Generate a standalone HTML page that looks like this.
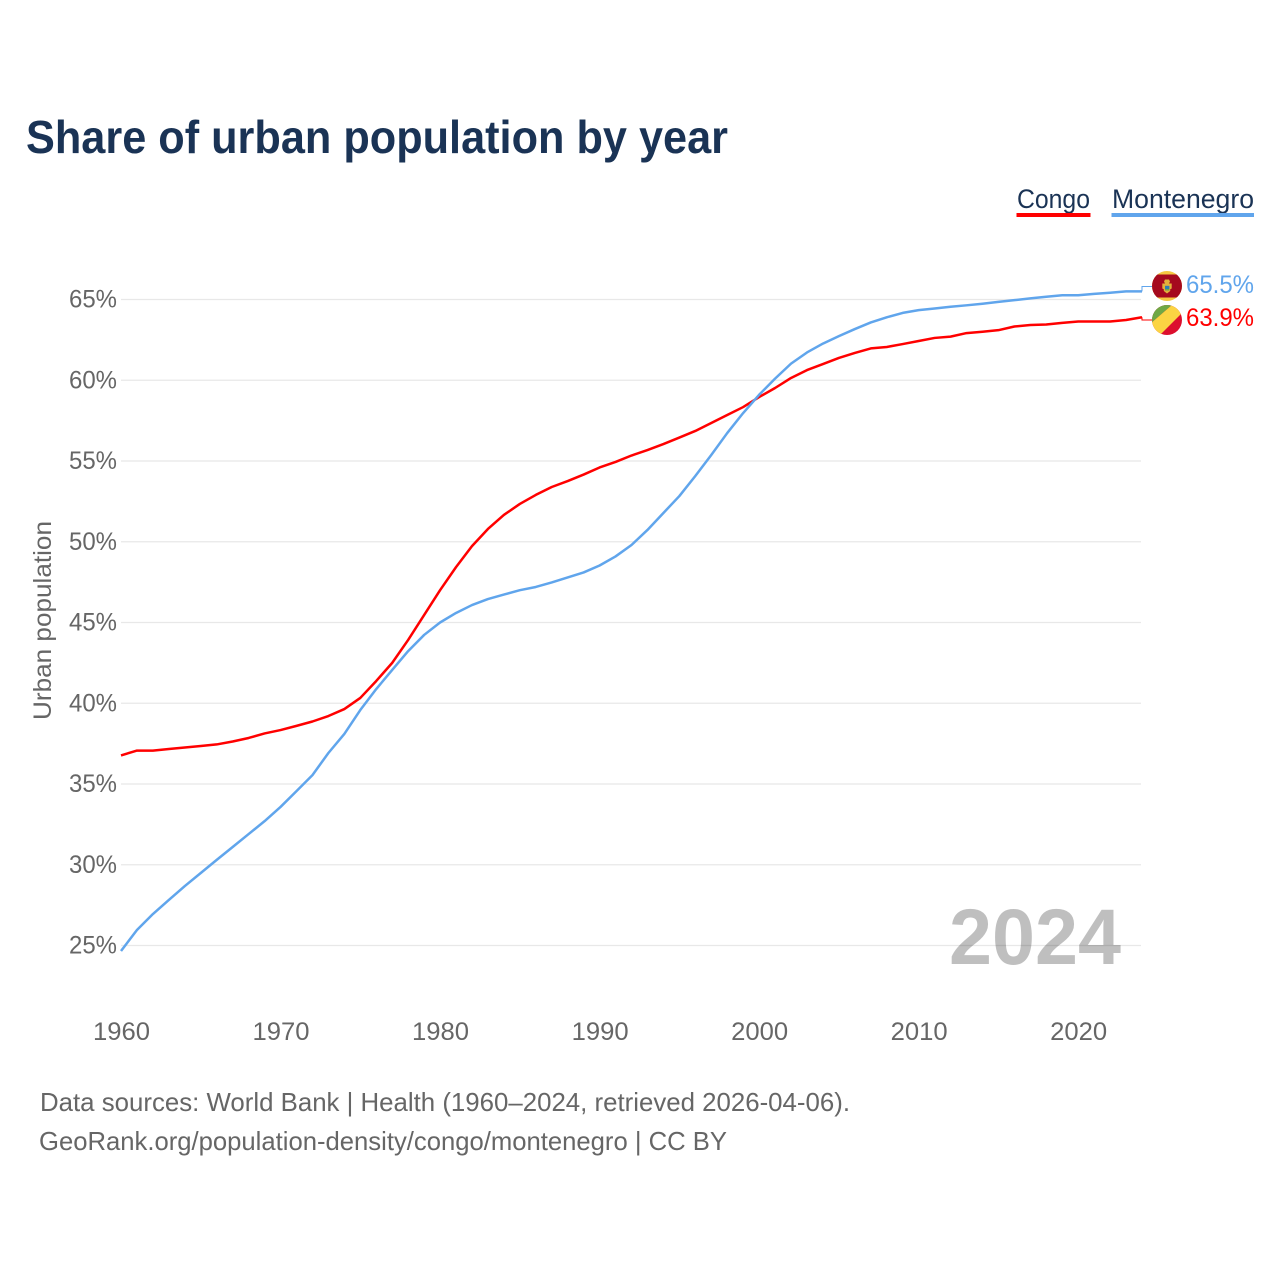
<!DOCTYPE html>
<html lang="en">
<head>
<meta charset="utf-8">
<title>Share of urban population by year</title>
<style>
  html, body { margin: 0; padding: 0; background: #fff; }
  svg { display: block; font-family: "Liberation Sans", sans-serif; }
</style>
</head>
<body>
<svg id="chart" width="1280" height="1280" viewBox="0 0 1280 1280" xmlns="http://www.w3.org/2000/svg">
  <rect width="1280" height="1280" fill="#fff"/>
  <text x="26" y="153" font-size="46" font-weight="700" fill="#1a3355" textLength="702" lengthAdjust="spacingAndGlyphs">Share of urban population by year</text>

  <g>
    <g>
      <text x="1017" y="208" font-size="27" fill="#1a3355" textLength="73" lengthAdjust="spacingAndGlyphs">Congo</text>
      <rect x="1016.5" y="213" width="74" height="4" fill="#ff0000"/>
    </g>
    <g>
      <text x="1112" y="208" font-size="27" fill="#1a3355" textLength="142" lengthAdjust="spacingAndGlyphs">Montenegro</text>
      <rect x="1111.5" y="213" width="142.5" height="4" fill="#60a5ec"/>
    </g>
  </g>

  <g id="grid"></g>
  <g id="yticks"></g>
  <g id="xticks"></g>

  <text transform="translate(51,620.5) rotate(-90)" text-anchor="middle" font-size="25" fill="#666" textLength="199" lengthAdjust="spacingAndGlyphs">Urban population</text>

  <text x="949" y="964" font-size="79" font-weight="700" fill="#000" fill-opacity="0.25" textLength="172" lengthAdjust="spacingAndGlyphs">2024</text>

  <g id="series"></g>

  <defs>
    <clipPath id="clip-me"><circle cx="1167" cy="286" r="15"/></clipPath>
    <clipPath id="clip-cg"><circle cx="1167" cy="320" r="15"/></clipPath>
  </defs>

  <g clip-path="url(#clip-me)">
    <rect x="1152" y="271" width="30" height="30" fill="#f5c842"/>
    <rect x="1152" y="274.5" width="30" height="23" fill="#a50a1e"/>
    <path d="M1165 279.5 h4 l1 2 l-1 2 h2.7 v5 l-1.5 0.8 v1.7 l-3.2 2.5 l-3.2 -2.5 v-1.7 l-1.5 -0.8 v-5 h2.7 l-1 -2z" fill="#e3b13c"/>
    <rect x="1165" y="285.8" width="4.4" height="4.6" fill="#2f7fb0"/>
    <rect x="1165" y="289" width="4.4" height="1.4" fill="#6fa845"/>
  </g>
  <g clip-path="url(#clip-cg)">
    <rect x="1152" y="305" width="30" height="30" fill="#dc0f2e"/>
    <polygon points="1150,305 1172,305 1150,324" fill="#6fa845"/>
    <polygon points="1172,305 1190,305 1160,335 1145,335 1150,324" fill="#fbd443"/>
  </g>

  <text x="1186" y="293" font-size="25" fill="#60a5ec" textLength="68" lengthAdjust="spacingAndGlyphs">65.5%</text>
  <text x="1186" y="326" font-size="25" fill="#ff0000" textLength="68" lengthAdjust="spacingAndGlyphs">63.9%</text>

  <text x="40" y="1111" font-size="26" fill="#666" textLength="810" lengthAdjust="spacingAndGlyphs">Data sources: World Bank | Health (1960–2024, retrieved 2026-04-06).</text>
  <text x="39" y="1150" font-size="26" fill="#666" textLength="688" lengthAdjust="spacingAndGlyphs">GeoRank.org/population-density/congo/montenegro | CC BY</text>
</svg>

<script>
const startYear = 1960;
const yTickValues = [25, 30, 35, 40, 45, 50, 55, 60, 65];
const xTickYears = [1960, 1970, 1980, 1990, 2000, 2010, 2020];
const congoValues = [
  36.77, 37.07, 37.07, 37.17, 37.26, 37.35, 37.45, 37.63, 37.85, 38.13,
  38.34, 38.60, 38.87, 39.21, 39.64, 40.33, 41.38, 42.50, 43.92, 45.46,
  47.00, 48.43, 49.73, 50.79, 51.66, 52.34, 52.90, 53.39, 53.76, 54.16,
  54.60, 54.94, 55.34, 55.68, 56.05, 56.45, 56.86, 57.35, 57.85, 58.34,
  58.96, 59.52, 60.14, 60.63, 61.00, 61.38, 61.69, 61.97, 62.06, 62.24,
  62.43, 62.62, 62.70, 62.92, 63.00, 63.10, 63.33, 63.42, 63.45, 63.55,
  63.64, 63.64, 63.64, 63.73, 63.90
];
const montenegroValues = [
  24.66, 25.96, 26.95, 27.82, 28.68, 29.49, 30.30, 31.10, 31.90, 32.70,
  33.58, 34.56, 35.55, 36.92, 38.10, 39.58, 40.88, 42.06, 43.23, 44.23,
  45.00, 45.59, 46.08, 46.45, 46.73, 47.00, 47.20, 47.48, 47.79, 48.10,
  48.53, 49.09, 49.80, 50.73, 51.78, 52.83, 54.07, 55.37, 56.73, 57.97,
  59.10, 60.10, 61.03, 61.72, 62.27, 62.73, 63.17, 63.58, 63.90, 64.17,
  64.34, 64.44, 64.55, 64.64, 64.74, 64.85, 64.96, 65.07, 65.17, 65.26,
  65.26, 65.35, 65.42, 65.50, 65.50
];

const svgNS = "http://www.w3.org/2000/svg";
function xScale(year) { return 121 + (year - startYear) * 15.953; }
function yScale(v) { return 299.5 + (65 - v) * 16.15; }
function make(tag, parentId) {
  const el = document.createElementNS(svgNS, tag);
  document.getElementById(parentId).appendChild(el);
  return el;
}
function linePath(values) {
  return values.map((v, i) => (i ? "L" : "M") + xScale(startYear + i).toFixed(2) + " " + yScale(v).toFixed(2)).join(" ");
}

yTickValues.forEach(function (t) {
  const gl = make("line", "grid");
  
  
  gl.setAttribute("x1", 121);
  gl.setAttribute("x2", 1141);
  gl.setAttribute("y1", yScale(t));
  gl.setAttribute("y2", yScale(t));
  gl.setAttribute("stroke", "#e8e8e8");
  gl.setAttribute("stroke-width", "1.3");

  const tx = make("text", "yticks");
  
  
  tx.setAttribute("x", 69);
  tx.setAttribute("y", yScale(t) + 8);
  tx.setAttribute("font-size", "25");
  tx.setAttribute("fill", "#666");
  tx.setAttribute("textLength", "48");
  tx.setAttribute("lengthAdjust", "spacingAndGlyphs");
  tx.textContent = t + "%";
});

xTickYears.forEach(function (y) {
  const tx = make("text", "xticks");
  
  
  tx.setAttribute("x", xScale(y) - 28);
  tx.setAttribute("y", 1040);
  tx.setAttribute("font-size", "25");
  tx.setAttribute("fill", "#666");
  tx.setAttribute("textLength", "57");
  tx.setAttribute("lengthAdjust", "spacingAndGlyphs");
  tx.textContent = y;
});

const congoLine = make("path", "series");


congoLine.setAttribute("d", linePath(congoValues));
congoLine.setAttribute("fill", "none");
congoLine.setAttribute("stroke", "#ff0000");
congoLine.setAttribute("stroke-width", "2.5");
congoLine.setAttribute("stroke-linejoin", "round");

const montenegroLine = make("path", "series");


montenegroLine.setAttribute("d", linePath(montenegroValues));
montenegroLine.setAttribute("fill", "none");
montenegroLine.setAttribute("stroke", "#60a5ec");
montenegroLine.setAttribute("stroke-width", "2.5");
montenegroLine.setAttribute("stroke-linejoin", "round");

const endX = xScale(startYear + congoValues.length - 1);
const congoLeader = make("path", "series");


congoLeader.setAttribute("d", "M" + endX + " " + yScale(congoValues[congoValues.length - 1]) + " V320 H1153");
congoLeader.setAttribute("fill", "none");
congoLeader.setAttribute("stroke", "#ff0000");
congoLeader.setAttribute("stroke-width", "1");

const montenegroLeader = make("path", "series");


montenegroLeader.setAttribute("d", "M" + endX + " " + yScale(montenegroValues[montenegroValues.length - 1]) + " V286.5 H1153");
montenegroLeader.setAttribute("fill", "none");
montenegroLeader.setAttribute("stroke", "#60a5ec");
montenegroLeader.setAttribute("stroke-width", "1");
</script>
</body>
</html>
